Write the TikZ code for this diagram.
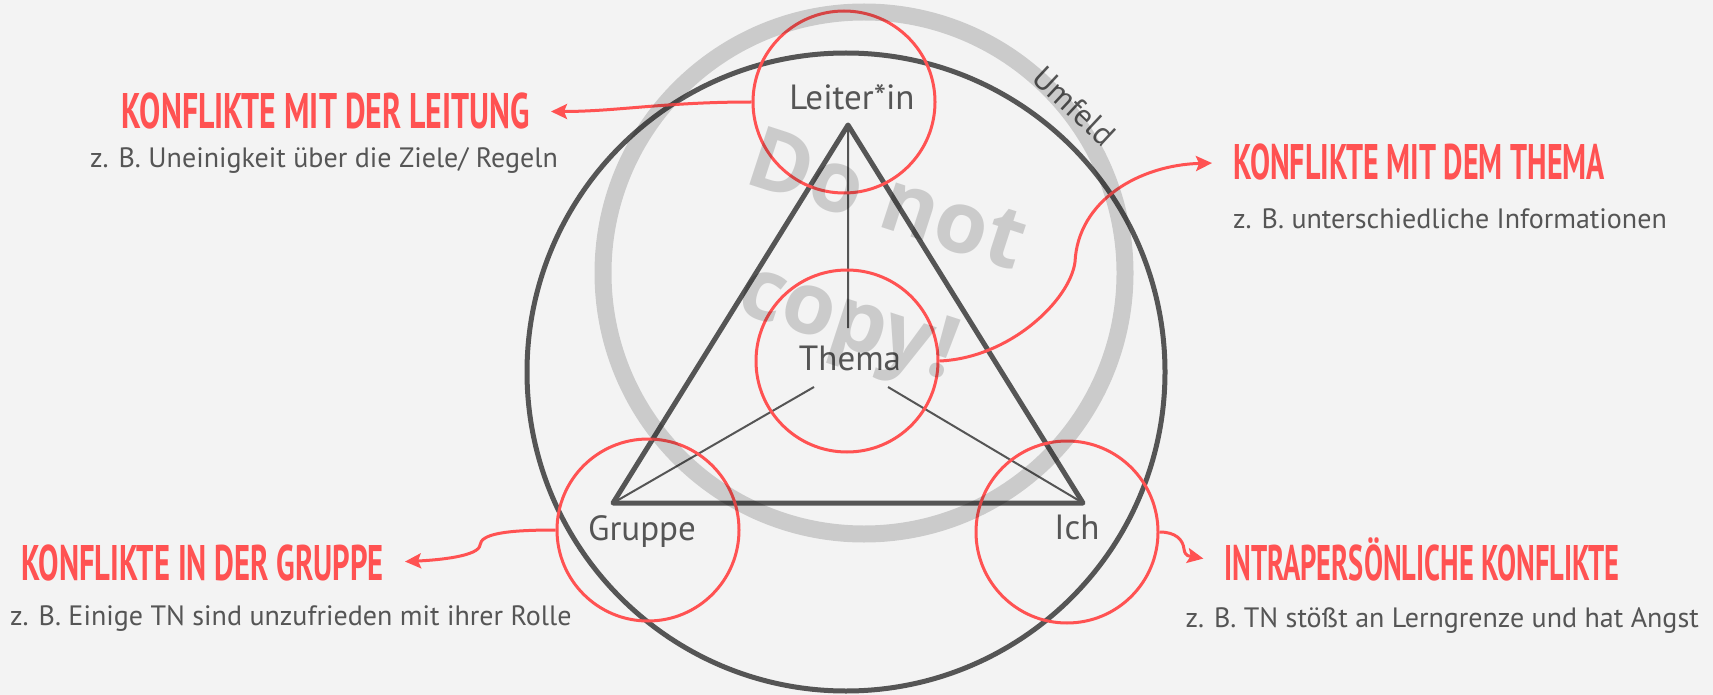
\documentclass[tikz,border=0pt]{standalone}
\usepackage{fontspec}
\setmainfont{PT Sans}
\newfontfamily\brushfont[FakeStretch=0.6]{PT Sans}
\newfontfamily\stampfont{Open Sans}
\usetikzlibrary{arrows.meta,positioning}
\definecolor{paper}{RGB}{243,243,243}
\definecolor{ink}{RGB}{85,85,85}
\definecolor{conflict}{RGB}{255,82,82}

\begin{document}
\begin{tikzpicture}[x=1pt,y=-1pt,>=Stealth,
  ring/.style={draw=conflict,line width=3pt,circle,minimum size=182pt,inner sep=0pt},
  corner/.style={text=ink,font=\fontsize{35}{42}\selectfont,inner sep=0pt,text height=24pt,text depth=0pt},
  heading/.style={text=conflict,font=\brushfont\bfseries\fontsize{50}{60}\selectfont,inner sep=0pt,text height=35pt,text depth=0pt},
  note/.style={text=ink,font=\fontsize{28}{34}\selectfont,inner sep=0pt},
  pointer/.style={conflict,line width=3pt,-{Stealth[length=16pt,width=15pt,inset=3pt]},shorten >=21pt},
  stamp/.style={text=black,text opacity=0.16,font=\stampfont\bfseries\fontsize{86}{125}\selectfont,align=center}]
  \fill[paper] (0,0) rectangle (1713,695);
  \useasboundingbox (0,0) rectangle (1713,695);
  \draw[ink,line width=5pt] (846,372) circle (319pt);
  \node[text=ink,rotate=-43,font=\fontsize{32}{38}\selectfont] (umfeld) at (1074,106) {Umfeld};
  \coordinate (apex) at (848,125);
  \coordinate (gcorner) at (613,503);
  \coordinate (icorner) at (1083,503);
  \coordinate (tn) at (848,328);
  \coordinate (tsw) at (814,387);
  \coordinate (tse) at (888,387);
  \draw[ink,line width=5pt,line join=round] (apex) -- (gcorner) -- (icorner) -- cycle;
  \draw[ink,line width=2pt] (apex) -- (tn) (gcorner) -- (tsw) (icorner) -- (tse);
  \node[ring] (lead) at (844,102) {};
  \node[ring] (topic) at (847,361) {};
  \node[ring] (group) at (648,530) {};
  \node[ring] (self) at (1067,532) {};
  \node[corner] (leadname) at (852,98) {Leiter*in};
  \node[corner] (topicname) at (850,358) {Thema};
  \node[corner] (groupname) at (642,528) {Gruppe};
  \node[corner] (selfname) at (1077,527) {Ich};
  \node[heading,anchor=base east,xscale=1.06] (leadhead) at (530,129) {KONFLIKTE MIT DER LEITUNG};
  \node[heading,anchor=base west] (topichead) at (1233,180) {KONFLIKTE MIT DEM THEMA};
  \node[heading,anchor=base east,xscale=1.02] (grouphead) at (384,580) {KONFLIKTE IN DER GRUPPE};
  \node[heading,anchor=base west,xscale=0.95] (selfhead) at (1224,580) {INTRAPERSÖNLICHE KONFLIKTE};
  \node[note,anchor=base] (leadnote) at (324,168) {z. B. Uneinigkeit über die Ziele/ Regeln};
  \node[note,anchor=base west] (topicnote) at (1233,229) {z. B. unterschiedliche Informationen};
  \node[note,anchor=base west] (groupnote) at (10,625) {z. B. Einige TN sind unzufrieden mit ihrer Rolle};
  \node[note,anchor=base east] (selfnote) at (1699,627) {z. B. TN stößt an Lerngrenze und hat Angst};
  \draw[pointer] (lead.west) to[out=180,in=0] (leadhead.east);
  \draw[pointer] (topic.east) .. controls (1010,358) and (1070,300) .. (1075,262)
    .. controls (1078,200) and (1140,165) .. (topichead.west);
  \draw[pointer] (group.west) .. controls (505,530) and (481,534) .. (480,545)
    .. controls (479,556) and (440,560) .. (grouphead.east);
  \draw[pointer] (self.east) .. controls (1176,532) and (1183,540) .. (1184,549)
    .. controls (1185,557) and (1190,556) .. (selfhead.west);
  \draw[line width=17pt,opacity=0.16] (864,273) circle (261pt);
  \node[stamp,rotate=-18] (stamp) at (866,267) {Do not\\copy!};
\end{tikzpicture}
\end{document}
